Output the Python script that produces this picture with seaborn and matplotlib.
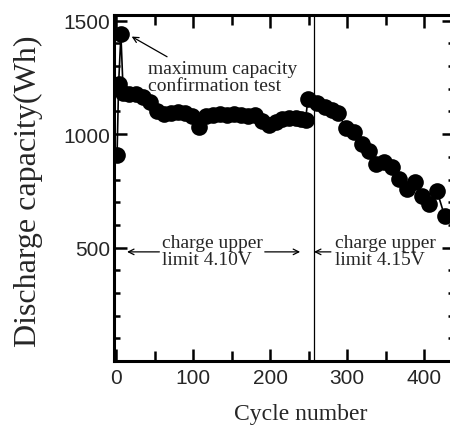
import matplotlib
matplotlib.use("Agg")
import matplotlib.pyplot as plt
from matplotlib.ticker import MultipleLocator
import seaborn as sns
import pandas as pd

# Cycle test of a battery pack: discharge capacity vs. cycle number
cycles_410 = [1, 3, 6, 9, 17, 26, 35, 44, 53, 62, 71, 80, 89, 98, 108, 117,
              126, 135, 144, 153, 162, 171, 180, 189, 198, 207, 216, 225,
              234, 240, 246]
capacity_410 = [910, 1220, 1440, 1180, 1175, 1175, 1165, 1140, 1100, 1090,
                1092, 1098, 1095, 1080, 1030, 1080, 1085, 1090, 1085, 1090,
                1085, 1080, 1085, 1060, 1040, 1055, 1065, 1070, 1070, 1068,
                1062]
cycles_415 = [249, 261, 271, 280, 288, 299, 309, 319, 329, 337, 348, 358,
              368, 378, 388, 397, 407, 417, 427]
capacity_415 = [1153, 1135, 1120, 1105, 1093, 1025, 1010, 958, 925, 868,
                876, 854, 802, 758, 790, 728, 690, 748, 637]

limit_change_cycle = 257

df = pd.DataFrame({"cycle": cycles_410 + cycles_415,
                   "capacity": capacity_410 + capacity_415})

sns.set_style("ticks")
plt.rcParams["font.family"] = ["Liberation Serif", "DejaVu Serif"]

fig = plt.figure(figsize=(4.5, 4.27), dpi=100)
# the frame runs a little past the right edge of the canvas
ax = fig.add_axes([0.2533, 0.1522, 0.7556, 0.8103])

sns.lineplot(data=df, x="cycle", y="capacity", ax=ax, color="black",
             linewidth=1.2, marker="o", markersize=12, markeredgewidth=0,
             sort=False)

ax.axvline(limit_change_cycle, color="black", linewidth=0.9)

ax.set_xlim(-3, 439)
ax.set_ylim(0, 1525)

ax.xaxis.set_major_locator(MultipleLocator(100))
ax.xaxis.set_minor_locator(MultipleLocator(50))
ax.yaxis.set_minor_locator(MultipleLocator(100))
ax.set_yticks([500, 1000, 1500])

for side in ["left", "bottom", "top", "right"]:
    ax.spines[side].set_visible(True)
    ax.spines[side].set_linewidth(2.2)
    ax.spines[side].set_color("black")

ax.tick_params(axis="both", which="both", direction="in", color="black",
               top=True, right=True, width=1.8)
ax.tick_params(axis="x", which="major", length=9, pad=5)
ax.tick_params(axis="x", which="minor", length=7)
ax.tick_params(axis="y", which="major", length=9, pad=3)
ax.tick_params(axis="y", which="minor", length=4.5)
for lab in ax.get_xticklabels() + ax.get_yticklabels():
    lab.set_fontfamily(["Liberation Sans", "DejaVu Sans"])
    lab.set_fontsize(15)

ax.set_xlabel("Cycle number", fontsize=17)
ax.set_ylabel("Discharge capacity(Wh)", fontsize=23)
ax.xaxis.set_label_coords(0.55, -0.12)
ax.yaxis.set_label_coords(-0.21, 0.494)

arrow = dict(arrowstyle="->", color="black", lw=0.9, shrinkA=0, shrinkB=0)

ax.annotate("", xy=(20, 1430), xytext=(66, 1341), arrowprops=arrow)
ax.text(41, 1253, "maximum capacity\nconfirmation test", fontsize=14,
        va="center", ha="left", linespacing=1.0)

ax.text(59, 486, "charge upper\nlimit 4.10V", fontsize=14,
        va="center", ha="left", linespacing=1.0)
ax.annotate("", xy=(14, 481), xytext=(56, 481), arrowprops=arrow)
ax.annotate("", xy=(239, 481), xytext=(193, 481), arrowprops=arrow)

ax.text(284.5, 486, "charge upper\nlimit 4.15V", fontsize=14,
        va="center", ha="left", linespacing=1.0)
ax.annotate("", xy=(limit_change_cycle, 481), xytext=(279, 481),
            arrowprops=arrow)

fig.savefig("out.png", dpi=100)
